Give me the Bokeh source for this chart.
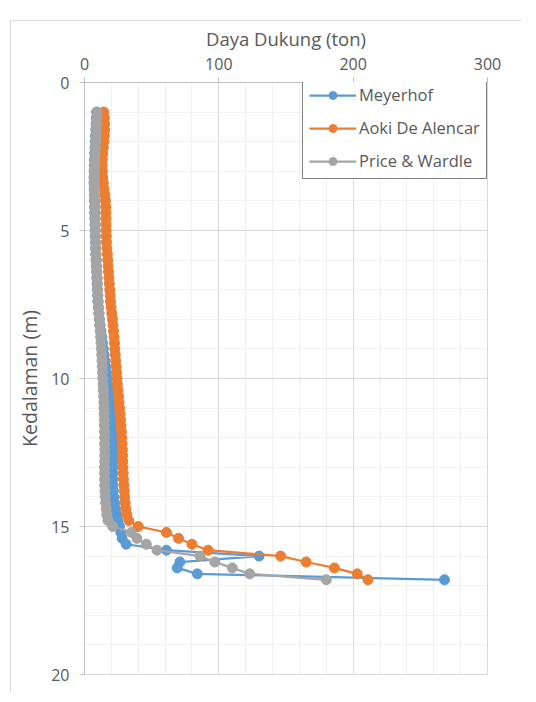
from bokeh.plotting import figure
from bokeh.models import Range1d, FixedTicker, Legend, LegendItem
from bokeh.embed import file_html
from bokeh.resources import INLINE

depth = [1.0, 1.2, 1.4, 1.6, 1.8, 2.0, 2.2, 2.4, 2.6, 2.8,
         3.0, 3.2, 3.4, 3.6, 3.8, 4.0, 4.2, 4.4, 4.6, 4.8,
         5.0, 5.2, 5.4, 5.6, 5.8, 6.0, 6.2, 6.4, 6.6, 6.8,
         7.0, 7.2, 7.4, 7.6, 7.8, 8.0, 8.2, 8.4, 8.6, 8.8,
         9.0, 9.2, 9.4, 9.6, 9.8, 10.0, 10.2, 10.4, 10.6, 10.8,
         11.0, 11.2, 11.4, 11.6, 11.8, 12.0, 12.2, 12.4, 12.6, 12.8,
         13.0, 13.2, 13.4, 13.6, 13.8, 14.0, 14.2, 14.4, 14.6, 14.8,
         15.0, 15.2, 15.4, 15.6, 15.8, 16.0, 16.2, 16.4, 16.6, 16.8]

meyerhof = [9.0, 8.8, 8.6, 8.4, 8.2, 8.0, 7.8, 7.6, 7.4, 7.3,
            7.2, 7.1, 7.1, 7.2, 7.3, 7.4, 7.5, 7.6, 7.7, 7.8,
            7.9, 8.0, 8.1, 8.2, 8.4, 8.6, 8.8, 9.0, 9.2, 9.4,
            9.6, 9.8, 10.0, 10.3, 10.7, 11.1, 11.6, 12.2, 12.8, 13.4,
            14.0, 14.6, 15.2, 15.8, 16.4, 17.0, 17.5, 18.0, 18.5, 19.0,
            19.4, 19.8, 20.1, 20.4, 20.7, 21.0, 21.3, 21.5, 21.6, 21.4,
            21.1, 21.0, 21.0, 21.1, 21.4, 21.8, 22.4, 23.2, 24.0, 25.0,
            26.0, 27.0, 28.0, 31.0, 61.0, 130.0, 71.0, 69.0, 84.0, 268.0]

aoki = [14.4, 14.8, 15.0, 15.0, 14.8, 14.4, 14.0, 13.6, 13.3, 13.2,
        13.3, 13.6, 14.0, 14.6, 15.2, 15.6, 15.8, 15.9, 16.0, 16.0,
        16.1, 16.2, 16.4, 16.7, 17.0, 17.3, 17.6, 17.9, 18.2, 18.5,
        18.8, 19.1, 19.4, 19.8, 20.3, 20.8, 21.2, 21.6, 22.0, 22.3,
        22.6, 22.9, 23.2, 23.6, 23.9, 24.2, 24.5, 24.9, 25.3, 25.7,
        26.1, 26.5, 26.9, 27.2, 27.5, 27.8, 28.0, 28.2, 28.4, 28.5,
        28.6, 28.8, 29.0, 29.3, 29.6, 29.9, 30.3, 30.8, 31.6, 33.0,
        40.0, 61.0, 70.0, 80.0, 92.0, 146.0, 165.0, 186.0, 203.0, 211.0]

price = [9.4, 9.2, 9.0, 8.8, 8.6, 8.4, 8.2, 8.0, 7.8, 7.7,
         7.6, 7.5, 7.5, 7.6, 7.7, 7.8, 7.9, 8.0, 8.0, 8.1,
         8.1, 8.2, 8.3, 8.4, 8.6, 8.8, 9.0, 9.2, 9.4, 9.6,
         9.8, 10.0, 10.2, 10.5, 10.8, 11.1, 11.4, 11.7, 12.0, 12.3,
         12.6, 12.8, 13.0, 13.2, 13.4, 13.6, 13.8, 14.0, 14.2, 14.4,
         14.5, 14.6, 14.7, 14.8, 14.9, 15.0, 15.0, 15.1, 15.1, 15.0,
         14.9, 14.9, 15.0, 15.0, 15.2, 15.5, 15.8, 16.2, 16.6, 17.5,
         21.0, 35.0, 39.0, 46.0, 54.0, 86.0, 97.0, 110.0, 123.0, 180.0]

series_names = ["Meyerhof", "Aoki De Alencar", "Price & Wardle"]
series_colors = ["#5B9BD5", "#ED7D31", "#A5A5A5"]
x_ticks = [0, 100, 200, 300]
x_minor = [20, 40, 60, 80, 120, 140, 160, 180, 220, 240, 260, 280]
y_ticks = [0, 5, 10, 15, 20]
y_minor = [1, 2, 3, 4, 6, 7, 8, 9, 11, 12, 13, 14, 16, 17, 18, 19]

FONT = "Open Sans"
TXT = "#595959"

p = figure(width=511, height=672, output_backend="svg", toolbar_location=None,
           x_range=Range1d(0, 300), y_range=Range1d(20, 0),
           x_axis_location="above",
           min_border_left=73, min_border_top=61, min_border_bottom=19, min_border_right=35)
p.styles = {"margin-left": "10px", "margin-top": "20px",
            "border-left": "1px solid #d9d9d9", "border-top": "1px solid #d9d9d9"}

p.xaxis.ticker = FixedTicker(ticks=x_ticks, minor_ticks=x_minor)
p.yaxis.ticker = FixedTicker(ticks=y_ticks, minor_ticks=y_minor)
p.xaxis.axis_label = "Daya Dukung (ton)"
p.yaxis.axis_label = "Kedalaman (m)"

for ax in (p.xaxis[0], p.yaxis[0]):
    ax.axis_line_color = "#bfbfbf"
    ax.major_tick_line_color = "#bfbfbf"
    ax.major_tick_in = 0
    ax.major_tick_out = 5
    ax.minor_tick_line_color = None
    ax.major_label_text_font = FONT
    ax.major_label_text_font_size = "16px"
    ax.major_label_text_color = TXT
    ax.axis_label_text_font = FONT
    ax.axis_label_text_font_style = "normal"
    ax.axis_label_text_color = TXT
p.xaxis.axis_label_text_font_size = "18.5px"
p.yaxis.axis_label_text_font_size = "19.5px"
p.xaxis.major_label_standoff = 8
p.xaxis.axis_label_standoff = 4
p.yaxis.major_label_standoff = 10
p.yaxis.axis_label_standoff = 5

p.grid.grid_line_color = "#d9d9d9"
p.grid.minor_grid_line_color = "#f0f0f0"
p.outline_line_color = "#d9d9d9"

ys = [meyerhof, aoki, price]
items = []
for name, color, vals in zip(series_names, series_colors, ys):
    ln = p.line(vals, depth, line_color=color, line_width=2.25)
    sc = p.scatter(vals, depth, marker="circle", size=10, fill_color=color, line_color=color)
    items.append(LegendItem(label=name, renderers=[ln, sc]))

legend = Legend(items=items, location=(218, 495))
legend.border_line_color = "black"
legend.border_line_width = 1.2
legend.background_fill_color = "white"
legend.background_fill_alpha = 1
legend.label_text_font = FONT
legend.label_text_font_size = "16.5px"
legend.label_text_color = TXT
legend.glyph_width = 47
legend.glyph_height = 20
legend.label_height = 20
legend.spacing = 10
legend.padding = 6
legend.margin = 0
legend.label_standoff = 3
p.add_layout(legend)

open("out.html", "w").write(file_html(p, INLINE))
